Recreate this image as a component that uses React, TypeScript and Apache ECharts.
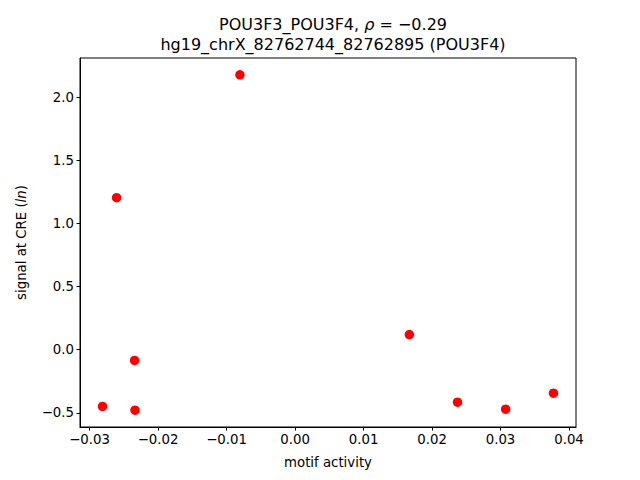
import React, { useEffect, useRef } from "react";
import * as echarts from "echarts";

const motifActivity = [-0.00805, -0.02606, -0.02343, -0.02811, -0.02337, 0.01669, 0.02372, 0.03075, 0.03773];
const signalAtCRE = [2.177, 1.204, -0.085, -0.449, -0.479, 0.120, -0.415, -0.471, -0.344];
const xTicks = [-0.03, -0.02, -0.01, 0.0, 0.01, 0.02, 0.03, 0.04];
const yTicks = [-0.5, 0.0, 0.5, 1.0, 1.5, 2.0];
const titleLine1 = "POU3F3_POU3F4, ";
const rhoText = "−0.29";
const titleLine2 = "hg19_chrX_82762744_82762895 (POU3F4)";

const FONT = "DejaVu Sans";

export default function App() {
  const ref = useRef<HTMLDivElement>(null);
  useEffect(() => {
    if (!ref.current) return;
    const chart = echarts.init(ref.current, null, { renderer: "svg" });
    const xmin = Math.min(...motifActivity), xmax = Math.max(...motifActivity);
    const ymin = Math.min(...signalAtCRE), ymax = Math.max(...signalAtCRE);
    const xm = (xmax - xmin) * 0.05, ym = (ymax - ymin) * 0.05;
    const fmtMinus = (v: number, d: number) => {
      const s = Math.abs(v) < 1e-12 ? (0).toFixed(d) : v.toFixed(d);
      return s.replace("-", "−");
    };
    chart.setOption({
      animation: false,
      backgroundColor: "#ffffff",
      textStyle: { fontFamily: FONT },
      title: {
        left: 328,
        textAlign: "center",
        top: 9,
        text: `{n|${titleLine1}}{i|ρ}{n| = ${rhoText}}\n{n|${titleLine2}}`,
        textStyle: {
          fontWeight: "normal",
          rich: {
            n: { fontFamily: FONT, fontSize: 16, fontWeight: "normal", color: "#000", lineHeight: 20 },
            i: { fontFamily: FONT, fontSize: 16, fontWeight: "normal", color: "#000", fontStyle: "italic", lineHeight: 20 },
          },
        },
      },
      grid: {
        left: 80,
        right: 64,
        top: 58,
        bottom: 53,
        show: true,
        borderColor: "#000",
        borderWidth: 1,
        backgroundColor: "transparent",
      },
      xAxis: {
        type: "value",
        min: xmin - xm,
        max: xmax + xm,
        name: "motif activity",
        nameLocation: "middle",
        nameGap: 29,
        nameTextStyle: { fontFamily: FONT, fontSize: 13.3, color: "#000" },
        splitLine: { show: false },
        axisLine: { show: true, onZero: false, lineStyle: { color: "#000", width: 1 } },
        axisTick: { show: true, length: 3.5, inside: false, customValues: xTicks, lineStyle: { color: "#000" } },
        axisLabel: {
          customValues: xTicks,
          margin: 6,
          fontFamily: FONT,
          fontSize: 13.3,
          color: "#000",
          formatter: (v: number) => fmtMinus(v, 2),
        },
      },
      yAxis: {
        type: "value",
        min: ymin - ym,
        max: ymax + ym,
        name: "signal at CRE ({i|ln})",
        nameLocation: "middle",
        nameGap: 52,
        nameRotate: 90,
        nameTextStyle: {
          fontFamily: FONT,
          fontSize: 13.3,
          color: "#000",
          rich: { i: { fontFamily: FONT, fontSize: 13.3, fontStyle: "italic", color: "#000" } },
        },
        splitLine: { show: false },
        axisLine: { show: true, onZero: false, lineStyle: { color: "#000", width: 1 } },
        axisTick: { show: true, length: 3.5, inside: false, customValues: yTicks, lineStyle: { color: "#000" } },
        axisLabel: {
          customValues: yTicks,
          margin: 6,
          fontFamily: FONT,
          fontSize: 13.3,
          color: "#000",
          formatter: (v: number) => fmtMinus(v, 1),
        },
      },
      series: [
        {
          type: "scatter",
          data: motifActivity.map((x, i) => [x, signalAtCRE[i]]),
          symbol: "circle",
          symbolSize: 9.5,
          itemStyle: { color: "#ff0000", opacity: 1 },
        },
      ],
    });
    return () => chart.dispose();
  }, []);
  return <div ref={ref} style={{ width: 640, height: 480, position: "absolute", left: 0, top: 0 }} />;
}
